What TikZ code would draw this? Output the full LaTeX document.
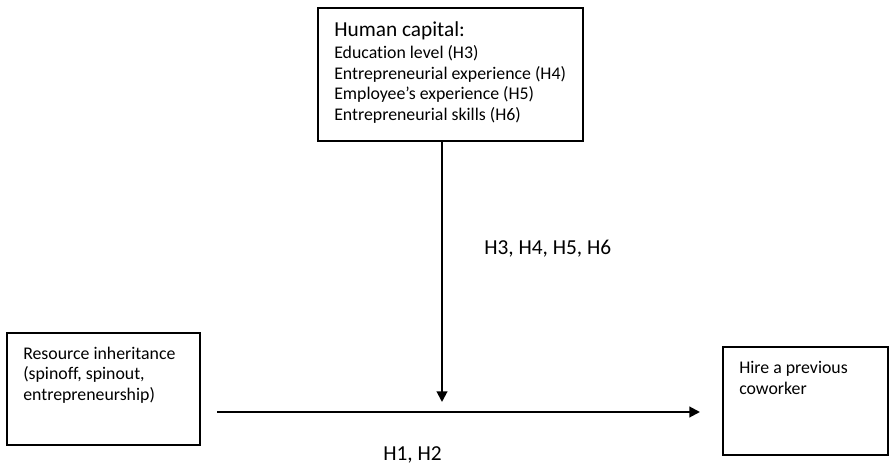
\documentclass[tikz,border=0pt]{standalone}
\usepackage{fontspec}
\setmainfont{Carlito}[Ligatures=NoCommon]
\usetikzlibrary{arrows.meta}
\begin{document}
\begin{tikzpicture}[x=0.75pt,y=-0.75pt,
  box/.style={draw=black,line width=1.3pt},
  txt/.style={anchor=base west,inner sep=0pt,font=\fontsize{13.35}{16}\selectfont},
  head/.style={anchor=base west,inner sep=0pt,font=\fontsize{16}{19}\selectfont},
  flow/.style={line width=1.5pt,-{Triangle[length=8pt,width=8pt]}}]
\useasboundingbox (0,0) rectangle (889,466);

% boxes
\draw[box] (318,8) rectangle (583,141);
\draw[box] (7,333) rectangle (200,445);
\draw[box] (723,347) rectangle (888,455);

% human capital text
\node[head] (t0) at (334,37) {Human capital:};
\node[txt] (t1) at (334,59) {Education level (H3)};
\node[txt] (t2) at (334,79.5) {Entrepreneurial experience (H4)};
\node[txt] (t3) at (334,100) {Employee’s experience (H5)};
\node[txt] (t4) at (334,120.5) {Entrepreneurial skills (H6)};

% resource inheritance text
\node[txt] (r1) at (23,359.5) {Resource inheritance};
\node[txt] (r2) at (23,380) {(spinoff, spinout,};
\node[txt] (r3) at (23,400.5) {entrepreneurship)};

% outcome text
\node[txt] (o1) at (739,374) {Hire a previous};
\node[txt] (o2) at (739,395) {coworker};

% connectors
\coordinate (vs) at (442,141);
\coordinate (ve) at (442,402);
\coordinate (hs) at (217,412);
\coordinate (he) at (700,412);
\draw[flow] (vs) -- (ve);
\draw[flow] (hs) -- (he);

% hypothesis labels
\node[head] (l1) at (484,255) {H3, H4, H5, H6};
\node[head] (l2) at (383,460) {H1, H2};
\end{tikzpicture}
\end{document}
